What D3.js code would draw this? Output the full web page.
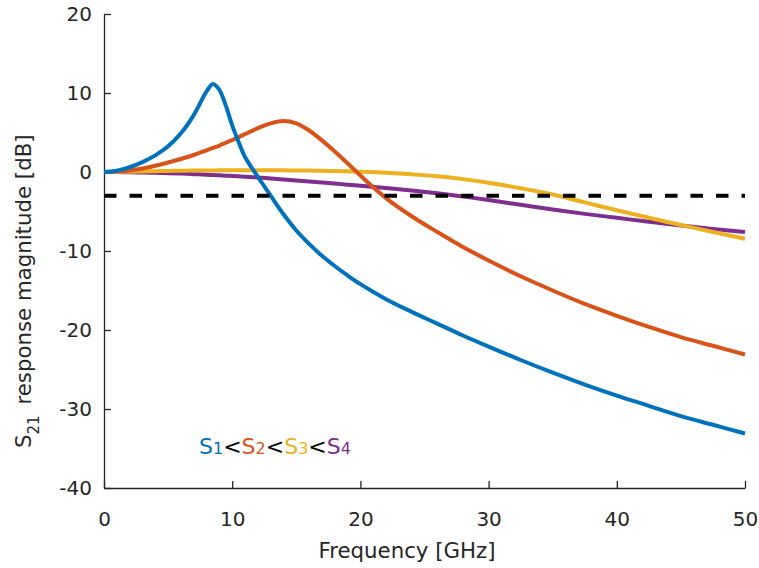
<!DOCTYPE html>
<html>
<head>
<meta charset="utf-8">
<script src="https://cdn.jsdelivr.net/npm/d3@7"></script>
<style>
  body { margin: 0; background: #fff; }
  svg { display: block; font-family: "DejaVu Sans", Verdana, sans-serif; }
</style>
</head>
<body>
<svg id="chart" width="759" height="568"></svg>
<script>
// frequency grid [GHz]
const freq = [0, 1, 2, 3, 4, 5, 6, 7, 8, 8.5, 9, 9.5, 10, 10.5, 11, 12, 13, 14, 15, 16, 17, 18, 19, 20,
  22, 24, 26, 28, 30, 32.5, 35, 37.5, 40, 42.5, 45, 47.5, 50];

// S21 magnitude [dB]
const s1 = [0, 0.15, 0.6, 1.25, 2.1, 3.25, 4.9, 7.2, 10.2, 11.15, 10.4, 8.4, 5.9, 3.8, 1.9, -0.6, -3.0, -5.35, -7.4, -9.1, -10.6, -11.9, -13.1, -14.2,
  -16.1, -17.7, -19.2, -20.7, -22.1, -23.8, -25.4, -26.9, -28.3, -29.6, -30.9, -32.0, -33.1];
const s2 = [0, 0.05, 0.2, 0.45, 0.8, 1.2, 1.65, 2.15, 2.75, 3.05, 3.35, 3.7, 4.05, 4.42, 4.8, 5.55, 6.15, 6.45, 6.15, 5.25, 4.0, 2.6, 1.1, -0.45,
  -3.3, -5.6, -7.6, -9.5, -11.2, -13.2, -15.0, -16.7, -18.2, -19.6, -20.9, -22.0, -23.1];
const s3 = [0, 0.01, 0.03, 0.06, 0.1, 0.13, 0.16, 0.18, 0.2, 0.2, 0.21, 0.22, 0.22, 0.225, 0.23, 0.23, 0.22, 0.21, 0.2, 0.18, 0.15, 0.12, 0.08, 0.04,
  -0.1, -0.3, -0.55, -0.9, -1.35, -2.05, -2.85, -3.85, -4.85, -5.8, -6.7, -7.6, -8.45];
const s4 = [0, -0.01, -0.03, -0.06, -0.1, -0.15, -0.2, -0.27, -0.34, -0.38, -0.42, -0.46, -0.5, -0.55, -0.6, -0.7, -0.82, -0.94, -1.07, -1.2, -1.33, -1.47, -1.6, -1.74,
  -2.02, -2.33, -2.7, -3.1, -3.55, -4.15, -4.75, -5.3, -5.8, -6.3, -6.78, -7.2, -7.6];

const seriesNames = ['S1', 'S2', 'S3', 'S4'];
const seriesColors = ['#0072BD', '#D95319', '#EDB120', '#7E2F8E'];
const seriesValues = [s1, s2, s3, s4];
const cutoff = -3;   // -3 dB reference line

const xTicks = [0, 10, 20, 30, 40, 50];
const yTicks = [-40, -30, -20, -10, 0, 10, 20];

const svg = d3.select('#chart');
const x = d3.scaleLinear().domain([0, 50]).range([104, 745]);
const y = d3.scaleLinear().domain([-40, 20]).range([488, 14]);
const axisColor = '#262626';
const tickFont = 20;
const labelFont = 21.3;
const fmt = d => String(d);   // plain hyphen like the original

// axes (box off, ticks pointing in)
const gx = svg.append('g')
  .attr('transform', 'translate(0,488)')
  .call(d3.axisBottom(x).tickValues(xTicks).tickFormat(fmt).tickSizeInner(-7).tickSizeOuter(0).tickPadding(24));
const gy = svg.append('g')
  .attr('transform', 'translate(104,0)')
  .call(d3.axisLeft(y).tickValues(yTicks).tickFormat(fmt).tickSizeInner(-7).tickSizeOuter(0).tickPadding(12));

[gx, gy].forEach(g => {
  g.select('.domain').attr('stroke', axisColor).attr('stroke-width', 1.3);
  g.selectAll('.tick line').attr('stroke', axisColor).attr('stroke-width', 1.3);
  g.selectAll('.tick text')
    .attr('fill', axisColor)
    .style('font-size', tickFont + 'px')
    .style('font-family', '"DejaVu Sans", Verdana, sans-serif');
});

// axis labels
svg.append('text')
  .attr('x', 407)
  .attr('y', 558)
  .attr('text-anchor', 'middle')
  .attr('fill', axisColor)
  .style('font-size', labelFont + 'px')
  .text('Frequency [GHz]');

const ylab = svg.append('text')
  .attr('transform', 'translate(31,448) rotate(-90)')
  .attr('text-anchor', 'start')
  .attr('fill', axisColor)
  .style('font-size', labelFont + 'px');
ylab.append('tspan').text('S');
ylab.append('tspan').attr('dy', 8).style('font-size', '15px').text('21');
ylab.append('tspan').attr('dy', -8).attr('dx', 4).text(' response magnitude [dB]');

// curves, last series drawn first so S1 sits on top
const line = d3.line()
  .x((d, i) => x(freq[i]))
  .y(d => y(d))
  .curve(d3.curveCatmullRom.alpha(0.5));

const order = [3, 2, 1, 0];
svg.append('g')
  .selectAll('path')
  .data(order)
  .join('path')
  .attr('d', k => line(seriesValues[k]))
  .attr('fill', 'none')
  .attr('stroke', k => seriesColors[k])
  .attr('stroke-width', 4)
  .attr('stroke-linejoin', 'round');

// -3 dB line
svg.append('line')
  .attr('x1', x(0)).attr('x2', x(50))
  .attr('y1', y(cutoff)).attr('y2', y(cutoff))
  .attr('stroke', '#000')
  .attr('stroke-width', 4)
  .attr('stroke-dasharray', '12.5 13');

// coloured "S1<S2<S3<S4" note
const note = svg.append('text')
  .attr('x', 199)
  .attr('y', 454)
  .style('font-size', '22px');
seriesNames.forEach((name, i) => {
  note.append('tspan').attr('fill', seriesColors[i]).text(name[0]);
  note.append('tspan').attr('fill', seriesColors[i]).style('font-size', '16px').text(name.slice(1));
  if (i < seriesNames.length - 1) note.append('tspan').attr('fill', '#000').text('<');
});
</script>
</body>
</html>
